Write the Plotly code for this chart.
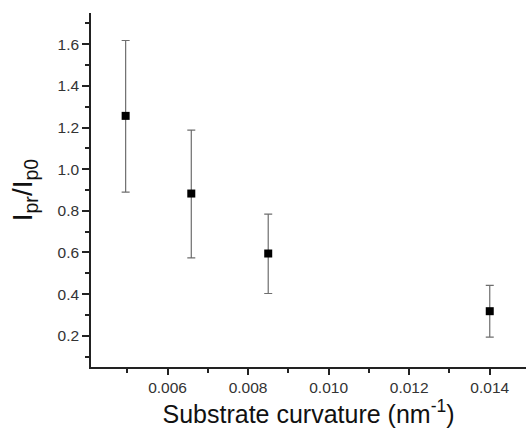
import plotly.graph_objects as go

curvature = [0.00496, 0.00659, 0.0085, 0.0140]
ratio = [1.256, 0.883, 0.595, 0.318]
err_plus = [1.618 - 1.256, 1.188 - 0.883, 0.784 - 0.595, 0.442 - 0.318]
err_minus = [1.256 - 0.890, 0.883 - 0.574, 0.595 - 0.403, 0.318 - 0.193]

x_ticks = [0.006, 0.008, 0.010, 0.012, 0.014]
x_ticklabels = ["0.006", "0.008", "0.010", "0.012", "0.014"]
y_ticks = [0.2, 0.4, 0.6, 0.8, 1.0, 1.2, 1.4, 1.6]
y_ticklabels = ["0.2", "0.4", "0.6", "0.8", "1.0", "1.2", "1.4", "1.6"]

fig = go.Figure()
fig.add_trace(go.Scatter(
    x=curvature, y=ratio, mode="markers",
    marker=dict(symbol="square", size=8, color="black"),
    error_y=dict(type="data", symmetric=False, array=err_plus, arrayminus=err_minus,
                 color="#6e6e6e", thickness=1.2, width=4),
    showlegend=False,
))

fam = "Liberation Sans, Arial"

fig.update_layout(
    width=526, height=428,
    margin=dict(l=91, r=0, t=13, b=61),
    paper_bgcolor="white", plot_bgcolor="white",
    font=dict(family=fam, color="#222222"),
    xaxis=dict(
        range=[0.0041, 0.0149], tickvals=x_ticks, ticktext=x_ticklabels,
        showgrid=False, zeroline=False, showline=True, linecolor="#222222", linewidth=1.5,
        ticks="outside", ticklen=6, tickwidth=1.5, tickcolor="#222222",
        minor=dict(dtick=0.001, tick0=0.0, ticks="outside", ticklen=4, tickwidth=1.5, tickcolor="#222222"),
        tickfont=dict(family=fam, size=15.5, color="#333333"),
        automargin=False,
        title=dict(text="Substrate curvature (nm<sup>-1</sup>)",
                   font=dict(family=fam, size=25, color="#111111"), standoff=9),
    ),
    yaxis=dict(
        range=[0.05, 1.75], tickvals=y_ticks, ticktext=y_ticklabels,
        showgrid=False, zeroline=False, showline=True, linecolor="#222222", linewidth=1.5,
        ticks="outside", ticklen=7, tickwidth=1.5, tickcolor="#222222",
        minor=dict(dtick=0.1, tick0=0.0, ticks="outside", ticklen=4, tickwidth=1.5, tickcolor="#222222"),
        tickfont=dict(family=fam, size=15.5, color="#333333"),
        automargin=False,
        title=dict(text="I<sub>pr</sub>/I<sub>p0</sub>",
                   font=dict(family=fam, size=28, color="#111111"), standoff=17),
    ),
)

fig.write_html("out.html")
